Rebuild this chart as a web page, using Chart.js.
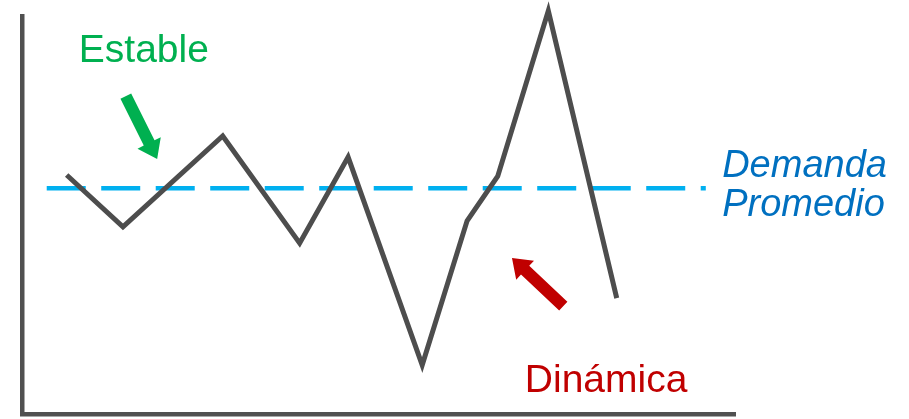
<!DOCTYPE html>
<html>
<head>
<meta charset="utf-8">
<script src="https://cdn.jsdelivr.net/npm/chart.js@4/dist/chart.umd.min.js"></script>
<style>
  html, body { margin: 0; padding: 0; background: #ffffff; }
  #wrap { width: 909px; height: 419px; }
</style>
</head>
<body>
<div id="wrap"><canvas id="demand" width="909" height="419"></canvas></div>
<script>
// Demand over time (relative units) and its average level
const periods = [6.2, 14.1, 28.1, 38.9, 45.7, 56.1, 62.4, 66.7, 73.8, 83.4];
const demand  = [60.1, 47.1, 69.9, 43.0, 64.6, 12.4, 48.6, 59.8, 101.3, 29.2];
const averageSpan  = [3.4, 95.9];
const averageLevel = 56.8;

// Annotation anchors, in the same data units as the axes
const labels = [
  { text: 'Estable',  x: 7.9,  y: 88.5, color: '#00b050', italic: false },
  { text: 'Dinámica', x: 70.5, y: 5.6,  color: '#c00000', italic: false },
  { text: 'Demanda',  x: 98.2, y: 59.5, color: '#0070c0', italic: true },
  { text: 'Promedio', x: 98.2, y: 49.8, color: '#0070c0', italic: true }
];
const arrows = [
  { from: [14.5, 79.9], to: [18.9, 64.1], color: '#00b050' },
  { from: [75.9, 27.2], to: [68.7, 39.3], color: '#c00000' }
];

const annotate = {
  id: 'annotate',
  afterDatasetsDraw(chart) {
    const { ctx, scales } = chart;
    const px = v => scales.x.getPixelForValue(v);
    const py = v => scales.y.getPixelForValue(v);
    ctx.save();
    arrows.forEach(a => {
      const tx = px(a.from[0]), ty = py(a.from[1]);
      const hx = px(a.to[0]),   hy = py(a.to[1]);
      const len = Math.hypot(hx - tx, hy - ty);
      const ux = (hx - tx) / len, uy = (hy - ty) / len;
      const nx = -uy, ny = ux;
      const w = 6, hw = 13, hl = 18;
      const bx = hx - ux * hl, by = hy - uy * hl;
      ctx.beginPath();
      ctx.moveTo(tx + nx * w, ty + ny * w);
      ctx.lineTo(bx + nx * w, by + ny * w);
      ctx.lineTo(bx + nx * hw, by + ny * hw);
      ctx.lineTo(hx, hy);
      ctx.lineTo(bx - nx * hw, by - ny * hw);
      ctx.lineTo(bx - nx * w, by - ny * w);
      ctx.lineTo(tx - nx * w, ty - ny * w);
      ctx.closePath();
      ctx.fillStyle = a.color;
      ctx.fill();
    });
    labels.forEach(l => {
      ctx.font = (l.italic ? 'italic ' : '') + (l.italic ? '38px' : '39px') + ' "Liberation Sans", Arial, sans-serif';
      ctx.fillStyle = l.color;
      ctx.textAlign = 'left';
      ctx.textBaseline = 'alphabetic';
      ctx.fillText(l.text, px(l.x), py(l.y));
    });
    ctx.restore();
  }
};

new Chart(document.getElementById('demand'), {
  type: 'line',
  data: {
    datasets: [
      {
        label: 'Demanda',
        data: periods.map((p, i) => ({ x: p, y: demand[i] })),
        borderColor: '#4d4d4d',
        borderWidth: 5,
        borderJoinStyle: 'miter',
        borderCapStyle: 'butt',
        pointRadius: 0,
        tension: 0,
        clip: false
      },
      {
        label: 'Demanda Promedio',
        data: averageSpan.map(x => ({ x: x, y: averageLevel })),
        borderColor: '#00b0f0',
        borderWidth: 4.5,
        borderDash: [39, 15.5],
        borderCapStyle: 'butt',
        pointRadius: 0,
        clip: false
      }
    ]
  },
  options: {
    responsive: false,
    animation: false,
    events: [],
    layout: { padding: { top: 16, right: 174, left: 0, bottom: 0 } },
    plugins: { legend: { display: false }, tooltip: { enabled: false } },
    scales: {
      x: {
        type: 'linear', min: 0, max: 100,
        grid: { display: false },
        ticks: { display: false },
        border: { display: true, color: '#505050', width: 4.5 },
        afterFit(s) { s.height = 4.5; }
      },
      y: {
        type: 'linear', min: 0, max: 100,
        grid: { display: false },
        ticks: { display: false },
        border: { display: true, color: '#505050', width: 4.5 },
        afterFit(s) { s.width = 22.5; }
      }
    }
  },
  plugins: [annotate]
});
</script>
</body>
</html>
